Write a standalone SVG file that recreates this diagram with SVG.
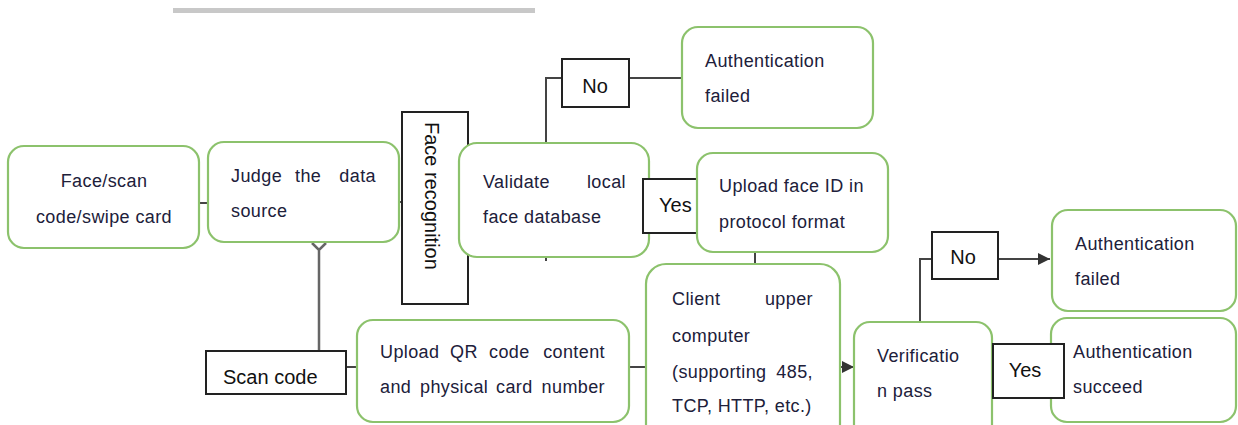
<svg xmlns="http://www.w3.org/2000/svg" width="1238" height="425" viewBox="0 0 1238 425">
<defs>
<style>
.g{fill:#fff;stroke:#8cc26c;stroke-width:2.2}
.b{fill:#fff;stroke:#222;stroke-width:2}
.t{font-family:"Liberation Sans",Arial,sans-serif;font-size:18px;letter-spacing:0.4px;fill:#20203a}
.l{font-family:"Liberation Sans",Arial,sans-serif;font-size:20px;fill:#111}
.c{fill:none;stroke:#444;stroke-width:2}
</style>
<marker id="ah" viewBox="0 0 10 10" refX="10" refY="5" markerWidth="6" markerHeight="6" markerUnits="strokeWidth" orient="auto">
<path d="M0,0 L10,5 L0,10 z" fill="#333"/>
</marker>
</defs>
<rect width="1238" height="425" fill="#fff"/>
<rect x="173" y="8" width="362" height="5" fill="#c8c8c8"/>

<g id="connectors">
<line class="c" x1="199" y1="203" x2="209" y2="203"/>
<line class="c" x1="399" y1="202" x2="403" y2="202"/>
<line class="c" x1="467" y1="203" x2="460" y2="203"/>
<polyline class="c" points="546,143 546,78 562,78"/>
<line class="c" x1="629" y1="78" x2="683" y2="78"/>
<line class="c" x1="546" y1="257" x2="546" y2="261"/>
<line class="c" x1="755" y1="252" x2="755" y2="265"/>
<path d="M312,243 L319,250 L326,243 M319,250 L319,351" fill="none" stroke="#666" stroke-width="2.5"/>
<line class="c" x1="346" y1="367" x2="358" y2="367"/>
<line class="c" x1="629" y1="367" x2="647" y2="367"/>
<line class="c" x1="840" y1="367" x2="854" y2="367" marker-end="url(#ah)"/>
<polyline class="c" points="920,322 920,259 932,259"/>
<line class="c" x1="998" y1="259" x2="1050" y2="259" marker-end="url(#ah)"/>
<line class="c" x1="992" y1="371" x2="994" y2="371"/>
</g>

<g id="n-face-scan">
<rect class="g" x="8" y="146" width="191" height="102" rx="16"/>
<text class="t" x="104" y="187" text-anchor="middle">Face/scan</text>
<text class="t" x="104" y="223" text-anchor="middle">code/swipe card</text>
</g>

<g id="n-judge">
<rect class="g" x="208" y="142" width="191" height="100" rx="16"/>
<text class="t" x="231" y="182">Judge</text>
<text class="t" x="295" y="182">the</text>
<text class="t" x="376" y="182" text-anchor="end">data</text>
<text class="t" x="231" y="217">source</text>
</g>

<g id="n-face-recognition">
<rect class="b" x="402" y="112" width="66" height="192"/>
<text class="l" transform="translate(425,122) rotate(90)" font-size="21">Face recognition</text>
</g>

<g id="n-validate">
<rect class="g" x="459" y="143" width="190" height="114" rx="18"/>
<text class="t" x="483" y="188">Validate</text>
<text class="t" x="626" y="188" text-anchor="end">local</text>
<text class="t" x="483" y="223">face database</text>
</g>

<g id="n-no-1">
<rect class="b" x="562" y="59" width="67" height="48"/>
<text class="l" x="595" y="93" text-anchor="middle">No</text>
</g>

<g id="n-auth-failed-1">
<rect class="g" x="682" y="27" width="191" height="101" rx="16"/>
<text class="t" x="705" y="67">Authentication</text>
<text class="t" x="705" y="102">failed</text>
</g>

<g id="n-yes-1">
<rect class="b" x="643" y="179" width="60" height="54"/>
<text class="l" x="659" y="212">Yes</text>
</g>

<g id="n-upload-face">
<rect class="g" x="697" y="153" width="191" height="99" rx="16"/>
<text class="t" x="719" y="192">Upload face ID in</text>
<text class="t" x="719" y="228">protocol format</text>
</g>

<g id="n-scan-code">
<rect class="b" x="206" y="351" width="140" height="43"/>
<text class="l" x="223" y="384">Scan code</text>
</g>

<g id="n-upload-qr">
<rect class="g" x="357" y="320" width="272" height="102" rx="16"/>
<text class="t" x="380" y="358">Upload</text>
<text class="t" x="450" y="358">QR</text>
<text class="t" x="489" y="358">code</text>
<text class="t" x="605" y="358" text-anchor="end">content</text>
<text class="t" x="380" y="393">and</text>
<text class="t" x="420" y="393">physical</text>
<text class="t" x="496" y="393">card</text>
<text class="t" x="605" y="393" text-anchor="end">number</text>
</g>

<g id="n-client">
<rect class="g" x="646" y="264" width="194" height="180" rx="20"/>
<text class="t" x="672" y="305">Client</text>
<text class="t" x="813" y="305" text-anchor="end">upper</text>
<text class="t" x="672" y="342">computer</text>
<text class="t" x="672" y="378">(supporting</text>
<text class="t" x="813" y="378" text-anchor="end">485,</text>
<text class="t" x="672" y="412">TCP, HTTP, etc.)</text>
</g>

<g id="n-verification">
<rect class="g" x="854" y="322" width="138" height="120" rx="16"/>
<text class="t" x="877" y="362">Verificatio</text>
<text class="t" x="877" y="397">n pass</text>
</g>

<g id="n-no-2">
<rect class="b" x="932" y="232" width="66" height="47"/>
<text class="l" x="963" y="264" text-anchor="middle">No</text>
</g>

<g id="n-auth-failed-2">
<rect class="g" x="1052" y="210" width="184" height="101" rx="16"/>
<text class="t" x="1075" y="250">Authentication</text>
<text class="t" x="1075" y="285">failed</text>
</g>

<g id="n-auth-succeed">
<rect class="g" x="1051" y="318" width="185" height="104" rx="16"/>
<text class="t" x="1073" y="358">Authentication</text>
<text class="t" x="1073" y="393">succeed</text>
</g>

<g id="n-yes-2">
<rect class="b" x="993" y="344" width="71" height="54"/>
<text class="l" x="1025" y="377" text-anchor="middle">Yes</text>
</g>
</svg>
